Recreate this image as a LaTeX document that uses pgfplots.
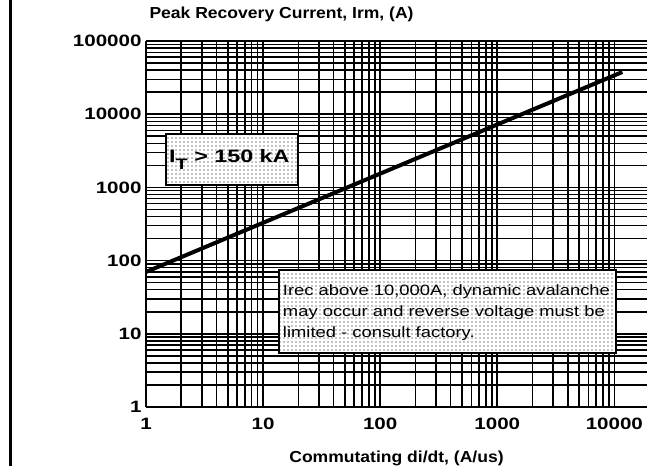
\documentclass[border=0pt]{standalone}
\usepackage{fontspec}
\usepackage{pgfplots}
\pgfplotsset{compat=1.18}
\usetikzlibrary{patterns.meta}
\setmainfont{Liberation Sans}
\newfontfamily\fTick{Liberation Sans}[FakeStretch=1.25]
\newfontfamily\fTitle{Liberation Sans}[FakeStretch=1.1]
\newfontfamily\fBoxA{Liberation Sans}[FakeStretch=1.3]
\newfontfamily\fBoxB{Liberation Sans}[FakeStretch=1.23]
\begin{document}
\begin{tikzpicture}
\useasboundingbox (0,0) rectangle (647bp,466bp);
\draw[line width=2.5bp] (10.5bp,0) -- (10.5bp,466bp);
\begin{axis}[
  at={(146bp,59bp)}, anchor=south west,
  width=501bp, height=366bp, scale only axis,
  xmode=log, ymode=log,
  xmin=1, xmax=19000, ymin=1, ymax=100000,
  clip=false,
  axis x line=box, axis y line=left,
  y axis line style={-},
  every non boxed y axis/.append style={y axis line style={-}},
  axis line style={line width=2.5bp, black},
  xtick={1,10,100,1000,10000},
  xticklabels={1,10,100,1000,10000},
  ytick={1,10,100,1000,10000,100000},
  yticklabels={1,10,100,1000,10000,100000},
  minor xtick={2,3,4,5,6,7,8,9,20,30,40,50,60,70,80,90,200,300,400,500,600,700,800,900,2000,3000,4000,5000,6000,7000,8000,9000},
  minor ytick={2,3,4,5,6,7,8,9,20,30,40,50,60,70,80,90,200,300,400,500,600,700,800,900,2000,3000,4000,5000,6000,7000,8000,9000,20000,30000,40000,50000,60000,70000,80000,90000},
  major tick length=0pt, minor tick length=0pt,
  xmajorgrids, xminorgrids, ymajorgrids, yminorgrids,
  major grid style={black, line width=1.7bp},
  minor grid style={black, line width=1.5bp},
  tick label style={font={\fontsize{16.5}{18}\selectfont\fTick\bfseries}},
  xticklabel style={yshift=-8bp},
  yticklabel style={xshift=-1bp},
  xlabel={Commutating di/dt, (A/us)},
  xlabel style={at={(axis description cs:0.5,0)}, anchor=base, yshift=-55bp,
    font={\fontsize{16}{18}\selectfont\fTitle\bfseries}},
  title={Peak Recovery Current, Irm, (A)},
  title style={at={(axis description cs:0,1)}, anchor=base west, yshift=16.5bp,
    font={\fontsize{16}{18}\selectfont\fTitle\bfseries}},
]
\addplot[black, line width=4bp] coordinates {(1,70) (11700,37700)};

% box 1
\fill[white] (rel axis cs:0.040,0.607) rectangle (rel axis cs:0.303,0.746);
\fill[pattern={Dots[distance=4bp, radius=0.6bp]}, pattern color=black]
  (rel axis cs:0.040,0.607) rectangle (rel axis cs:0.303,0.746);
\draw[line width=2bp] (rel axis cs:0.040,0.607) rectangle (rel axis cs:0.303,0.746);
\node[anchor=base west, inner sep=0pt, font={\fontsize{18}{20}\selectfont\fBoxA\bfseries}]
  at (rel axis cs:0.046,0.669) {I\raisebox{-7bp}{\scalebox{0.85}{T}} > 150 kA};

% box 2
\fill[white] (rel axis cs:0.265,0.148) rectangle (rel axis cs:0.938,0.374);
\fill[pattern={Dots[distance=4bp, radius=0.6bp]}, pattern color=black]
  (rel axis cs:0.265,0.148) rectangle (rel axis cs:0.938,0.374);
\draw[line width=2bp] (rel axis cs:0.265,0.148) rectangle (rel axis cs:0.938,0.374);
\node[anchor=base west, inner sep=0pt, font={\fontsize{15}{18}\selectfont\fBoxB}]
  at (rel axis cs:0.273,0.306) {Irec above 10,000A, dynamic avalanche};
\node[anchor=base west, inner sep=0pt, font={\fontsize{15}{18}\selectfont\fBoxB}]
  at (rel axis cs:0.273,0.247) {may occur and reverse voltage must be};
\node[anchor=base west, inner sep=0pt, font={\fontsize{15}{18}\selectfont\fBoxB}]
  at (rel axis cs:0.273,0.189) {limited - consult factory.};
\end{axis}
\end{tikzpicture}
\end{document}
